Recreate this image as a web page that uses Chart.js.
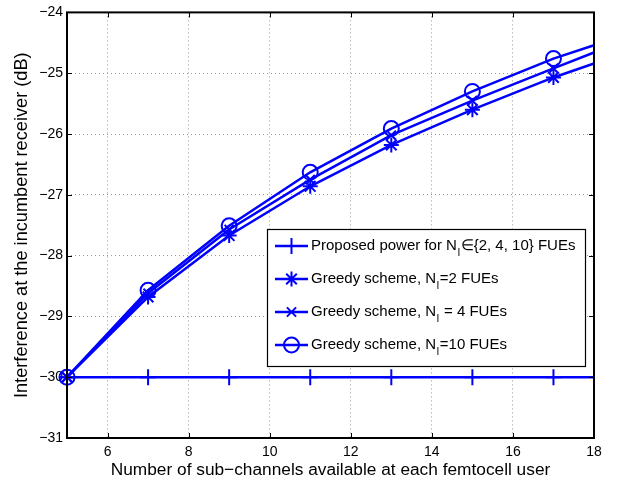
<!DOCTYPE html>
<html>
<head>
<meta charset="utf-8">
<script src="https://cdn.jsdelivr.net/npm/chart.js@4/dist/chart.umd.min.js"></script>
<style>
  html, body { margin: 0; padding: 0; background: #fff; }
  #wrap { width: 619px; height: 485px; position: relative; }
</style>
</head>
<body>
<div id="wrap"><canvas id="c"></canvas></div>
<script>
// sub-channel counts (markers at the odd counts, lines run on to 18)
const subChannels = [5, 7, 9, 11, 13, 15, 17, 18];
const lastMarkedX = 17;

// interference (dB)
const proposedPower = [-30, -30, -30, -30, -30, -30, -30, -30];
const greedyN2 = [-30, -28.68, -27.67, -26.86, -26.18, -25.60, -25.07, -24.84];
const greedyN4 = [-30, -28.62, -27.57, -26.75, -26.02, -25.45, -24.92, -24.66];
const greedyN10 = [-30, -28.57, -27.51, -26.63, -25.91, -25.30, -24.76, -24.54];

const xTicks = [6, 8, 10, 12, 14, 16, 18];
const yTicks = [-31, -30, -29, -28, -27, -26, -25, -24];

// "_I" marks the subscript
const seriesLabels = [
  'Proposed power for N_I\u2208{2, 4, 10} FUEs',
  'Greedy scheme, N_I=2 FUEs',
  'Greedy scheme, N_I = 4 FUEs',
  'Greedy scheme, N_I=10 FUEs'
];

const FONT = "'Liberation Sans', Arial, Helvetica, sans-serif";
const BLUE = '#0000ff';

const markerSpecs = [
  { style: 'cross', radius: 8 },
  { style: 'star', radius: 7.5 },
  { style: 'crossRot', radius: 6.5 },
  { style: 'circle', radius: 7.5 }
];

function toPoints(ys) {
  return subChannels.map((x, i) => ({ x: x, y: ys[i] }));
}

function series(i, ys, order) {
  const m = markerSpecs[i];
  return {
    label: seriesLabels[i],
    data: toPoints(ys),
    borderColor: BLUE,
    backgroundColor: 'rgba(0,0,0,0)',
    borderWidth: 2.5,
    pointStyle: m.style,
    pointRadius: (c) => subChannels[c.dataIndex] > lastMarkedX ? 0 : m.radius,
    pointBorderWidth: 2,
    pointBorderColor: BLUE,
    pointBackgroundColor: 'rgba(0,0,0,0)',
    pointHoverRadius: 0,
    tension: 0,
    clip: false,
    order: order
  };
}

// box, inward ticks and legend drawn on top
const framePlugin = {
  id: 'frame',
  afterDraw(chart) {
    const ctx = chart.ctx;
    const a = chart.chartArea;
    const xs = chart.scales.x, ys = chart.scales.y;
    const tl = 5;
    ctx.save();
    ctx.strokeStyle = '#000';
    ctx.lineWidth = 1;
    ctx.beginPath();
    xTicks.forEach((t) => {
      const px = Math.round(xs.getPixelForValue(t)) + 0.5;
      ctx.moveTo(px, a.bottom); ctx.lineTo(px, a.bottom - tl);
      ctx.moveTo(px, a.top); ctx.lineTo(px, a.top + tl);
    });
    yTicks.forEach((t) => {
      const py = Math.round(ys.getPixelForValue(t)) + 0.5;
      ctx.moveTo(a.left, py); ctx.lineTo(a.left + tl, py);
      ctx.moveTo(a.right, py); ctx.lineTo(a.right - tl, py);
    });
    ctx.stroke();
    ctx.lineWidth = 2;
    ctx.strokeRect(a.left, a.top, a.right - a.left, a.bottom - a.top);

    // legend
    const box = { x: 267.5, y: 229.5, w: 318, h: 137 };
    ctx.fillStyle = '#fff';
    ctx.fillRect(box.x, box.y, box.w, box.h);
    ctx.lineWidth = 1.2;
    ctx.strokeStyle = '#000';
    ctx.strokeRect(box.x, box.y, box.w, box.h);
    const rows = [246, 279, 312, 345];
    seriesLabels.forEach((label, i) => {
      const y = rows[i];
      ctx.strokeStyle = BLUE;
      ctx.lineWidth = 2.5;
      ctx.beginPath();
      ctx.moveTo(275, y); ctx.lineTo(308, y);
      ctx.stroke();
      ctx.lineWidth = 2;
      ctx.fillStyle = 'rgba(0,0,0,0)';
      Chart.helpers.drawPoint(ctx, {
        pointStyle: markerSpecs[i].style,
        radius: markerSpecs[i].radius,
        borderWidth: 2,
        rotation: 0
      }, 291.5, y);
      drawLabel(ctx, label, 311, y);
    });
    ctx.restore();
  }
};

function drawLabel(ctx, text, x, y) {
  const parts = text.split('_I');
  ctx.fillStyle = '#000';
  ctx.textBaseline = 'middle';
  ctx.textAlign = 'left';
  ctx.font = '15px ' + FONT;
  ctx.fillText(parts[0], x, y);
  x += ctx.measureText(parts[0]).width;
  ctx.font = '10px ' + FONT;
  ctx.fillText('I', x + 0.5, y + 7);
  x += ctx.measureText('I').width + 1;
  ctx.font = '15px ' + FONT;
  ctx.fillText(parts[1], x, y);
}

new Chart(document.getElementById('c'), {
  type: 'line',
  data: {
    datasets: [
      series(0, proposedPower, 4),
      series(1, greedyN2, 3),
      series(2, greedyN4, 2),
      series(3, greedyN10, 1)
    ]
  },
  options: {
    responsive: true,
    maintainAspectRatio: false,
    animation: false,
    events: [],
    layout: { padding: { top: 8, right: 25, left: 0, bottom: 0 } },
    plugins: {
      legend: { display: false },
      tooltip: { enabled: false }
    },
    scales: {
      x: {
        type: 'linear',
        min: 5,
        max: 18,
        afterBuildTicks: (s) => { s.ticks = xTicks.map((v) => ({ value: v })); },
        afterFit: (s) => { s.height = 47; },
        border: { display: false, dash: [1, 3] },
        grid: {
          color: '#999',
          lineWidth: 1,
          drawTicks: false
        },
        ticks: {
          padding: 6,
          color: '#000',
          font: { family: FONT, size: 14 },
          callback: (v) => String(v)
        },
        title: {
          display: true,
          text: 'Number of sub\u2212channels available at each femtocell user',
          color: '#000',
          font: { family: FONT, size: 17.3 },
          padding: { top: 0, bottom: 4 }
        }
      },
      y: {
        min: -31,
        max: -24,
        afterBuildTicks: (s) => { s.ticks = yTicks.map((v) => ({ value: v })); },
        afterFit: (s) => { s.width = 67; },
        border: { display: false, dash: [1, 3] },
        grid: {
          color: '#999',
          lineWidth: 1,
          drawTicks: false
        },
        ticks: {
          padding: 4,
          color: '#000',
          font: { family: FONT, size: 14 },
          callback: (v) => String(v).replace('-', '\u2212')
        },
        title: {
          display: true,
          text: 'Interference at the incumbent receiver (dB)',
          color: '#000',
          font: { family: FONT, size: 18.2 },
          padding: { top: 11, bottom: 0 }
        }
      }
    }
  },
  plugins: [framePlugin]
});
</script>
</body>
</html>
